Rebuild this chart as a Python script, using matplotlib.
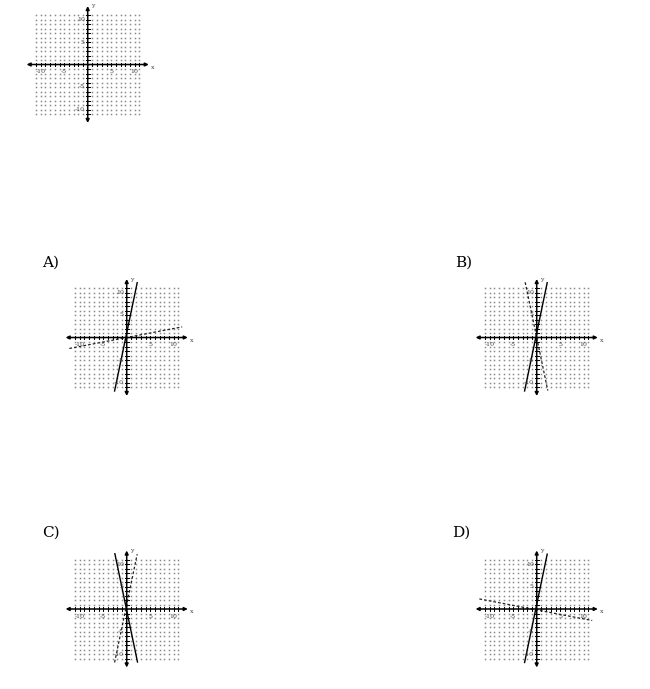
import numpy as np
import matplotlib.pyplot as plt

W, H = 650, 689

# grid settings (units)
grid_vals = np.arange(-11, 12)
tick_labels = [-10, -5, 5, 10]

# panels: name, origin in pixels (x, y from top), label
panel_names = ["top", "A", "B", "C", "D"]
origins = [(87.7, 64.5), (126.7, 337.5), (536.7, 337.5), (126.7, 609.0), (536.7, 609.0)]
letters = ["", "A)", "B)", "C)", "D)"]
letter_pos = [None, (42, 263), (455, 263), (42, 533), (452, 533)]

# lines per panel: (slope, intercept, style)
lines = {
    "top": [],
    "A": [(5.0, 1.0, "-"), (0.2, 0.0, "--")],
    "B": [(5.0, 1.0, "-"), (-5.0, 0.0, "--")],
    "C": [(-5.0, -0.3, "-"), (5.0, 1.0, "--")],
    "D": [(5.0, 1.0, "-"), (-0.2, -0.2, "--")],
}

px_x, px_y = 4.7, 4.5
lim = 14

fig = plt.figure(figsize=(W / 100, H / 100), dpi=100)


def draw_panel(ax, segs):
    ax.set_xlim(-lim, lim)
    ax.set_ylim(-lim, lim)
    ax.axis("off")
    gx, gy = np.meshgrid(grid_vals, grid_vals)
    ax.plot(gx.ravel(), gy.ravel(), ls="none", marker="s", ms=1.1,
            mec="none", mfc="#8a8a8a")
    # axes with arrows
    ax.annotate("", xy=(13, 0), xytext=(-13, 0),
                arrowprops=dict(arrowstyle="<|-|>", color="black", lw=1.1,
                                mutation_scale=5, shrinkA=0, shrinkB=0))
    ax.annotate("", xy=(0, 13), xytext=(0, -13),
                arrowprops=dict(arrowstyle="<|-|>", color="black", lw=1.1,
                                mutation_scale=5, shrinkA=0, shrinkB=0))
    for g in grid_vals:
        if g == 0:
            continue
        ax.plot([g, g], [-0.4, 0.4], color="black", lw=0.7)
        ax.plot([-0.4, 0.4], [g, g], color="black", lw=0.7)
    for t in tick_labels:
        ax.text(t, -1.0, str(t), ha="center", va="top", fontsize=4.5,
                family="DejaVu Serif", color="#444444")
        ax.text(-0.6, t, str(t), ha="right", va="center", fontsize=4.5,
                family="DejaVu Serif", color="#444444")
    ax.text(13.4, -0.6, "x", ha="left", va="center", fontsize=4.5,
            family="DejaVu Serif", color="#444444")
    ax.text(0.6, 13.0, "y", ha="left", va="center", fontsize=4.5,
            family="DejaVu Serif", color="#444444")
    for m, b, ls in segs:
        xs = np.linspace(-12.2, 11.8, 400)
        ys = m * xs + b
        keep = (ys >= -12.0) & (ys <= 12.4)
        if ls == "-":
            ax.plot(xs[keep], ys[keep], color="black", lw=1.0)
        else:
            ax.plot(xs[keep], ys[keep], color="#222222", lw=0.9, ls=(0, (2.2, 1.6)))


for name, (ox, oy), let, lp in zip(panel_names, origins, letters, letter_pos):
    w = 2 * lim * px_x
    h = 2 * lim * px_y
    left = (ox - w / 2) / W
    bottom = (H - (oy + h / 2)) / H
    ax = fig.add_axes([left, bottom, w / W, h / H])
    draw_panel(ax, lines[name])
    if let:
        fig.text(lp[0] / W, 1 - lp[1] / H, let, ha="left", va="center",
                 fontsize=11, family="DejaVu Serif")

fig.savefig("out.png", dpi=100)
